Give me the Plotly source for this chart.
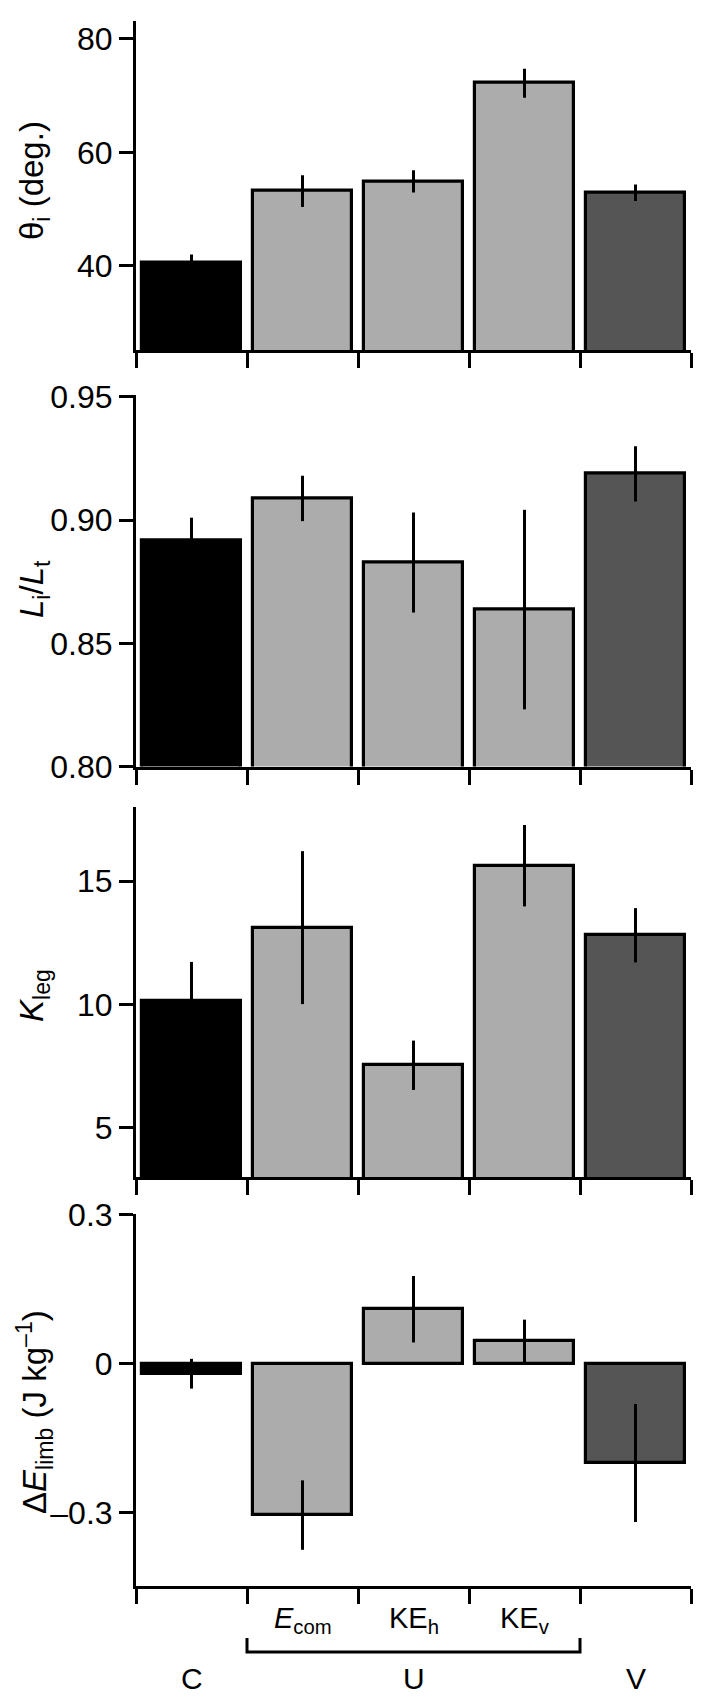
import plotly.graph_objects as go

# categories (C = control, U = unvaried components, V = varied)
categories = ["C", "Ecom", "KEh", "KEv", "V"]
cat_labels = ["", "<i>E</i><sub>com</sub>", "KE<sub>h</sub>", "KE<sub>v</sub>", ""]
group_labels = ["C", "U", "V"]
group_pos = [0, 2, 4]
bar_colors = ["#000000", "#acacac", "#acacac", "#acacac", "#555555"]

theta = [40.6, 53.2, 54.9, 72.2, 52.9]
theta_err = [1.4, 2.8, 1.95, 2.55, 1.45]

len_ratio = [0.8917, 0.9088, 0.8828, 0.8637, 0.9188]
len_ratio_err = [0.0093, 0.0092, 0.0203, 0.0405, 0.0112]

kleg = [10.12, 13.11, 7.53, 15.62, 12.80]
kleg_err = [1.6, 3.1, 1.0, 1.65, 1.1]

delta_e = [-0.02, -0.305, 0.11, 0.045, -0.20]
delta_e_err = [0.03, 0.07, 0.067, 0.044, 0.119]

W, H = 712, 1706
OFF = 8  # page body margin shifts the figure by this much
ML, MR = 136 - OFF, W - (691 - OFF)
FONT = "Liberation Sans, Arial, Helvetica, sans-serif"


def py(pix):
    # screen pixel row -> paper y
    return 1 - (pix - OFF) / H


def px(pix):
    # screen pixel column -> paper x
    return (pix - OFF - ML) / (W - ML - MR)


panels = [
    dict(y=theta, err=theta_err, rng=[25.2, 83.2], tv=[40, 60, 80], tt=["40", "60", "80"],
         dom=[py(350), py(20.7)], title="θ<sub>i</sub> (deg.)", ty=181),
    dict(y=len_ratio, err=len_ratio_err, rng=[0.80, 0.951], tv=[0.80, 0.85, 0.90, 0.95],
         tt=["0.80", "0.85", "0.90", "0.95"], dom=[py(766.5), py(394.5)],
         title="<i>L</i><sub>i</sub>/<i>L</i><sub>t</sub>", ty=589),
    dict(y=kleg, err=kleg_err, rng=[3, 18], tv=[5, 10, 15], tt=["5", "10", "15"],
         dom=[py(1177), py(807)], title="<i>K</i><sub>leg</sub>", ty=996),
    dict(y=delta_e, err=delta_e_err, rng=[-0.448, 0.302], tv=[-0.3, 0, 0.3], tt=["–0.3", "0", "0.3"],
         dom=[py(1586), py(1214)], title="Δ<i>E</i><sub>limb</sub> (J kg<sup>–1</sup>)", ty=1412),
]

xpos = list(range(len(categories)))
fig = go.Figure()
layout = {}
annotations = []

for i, p in enumerate(panels, start=1):
    xa = "x" if i == 1 else "x%d" % i
    ya = "y" if i == 1 else "y%d" % i
    fig.add_trace(go.Bar(
        x=xpos, y=p["y"], width=0.9,
        marker=dict(color=bar_colors, line=dict(color="black", width=3.2)),
        error_y=dict(type="data", array=p["err"], color="black", thickness=3, width=0),
        xaxis=xa, yaxis=ya, showlegend=False, hoverinfo="skip",
    ))
    layout["xaxis" if i == 1 else "xaxis%d" % i] = dict(
        domain=[0, 1], anchor=ya, range=[-0.5, 4.5],
        tickvals=[k - 0.5 for k in range(len(categories) + 1)],
        ticks="outside", ticklen=15, tickwidth=3, tickcolor="black",
        showticklabels=False, showline=True, linecolor="black", linewidth=3,
        showgrid=False, zeroline=False, automargin=False,
    )
    layout["yaxis" if i == 1 else "yaxis%d" % i] = dict(
        domain=p["dom"], anchor=xa, range=p["rng"], tickvals=p["tv"], ticktext=p["tt"],
        ticks="outside", ticklen=14, tickwidth=3, tickcolor="black",
        showline=True, linecolor="black", linewidth=3, showgrid=False, zeroline=False,
        tickfont=dict(size=32, color="black", family=FONT), ticklabelstandoff=0,
        automargin=False,
    )
    annotations.append(dict(
        text=p["title"], xref="paper", yref="paper", x=px(34), y=py(p["ty"]),
        xanchor="center", yanchor="middle", textangle=-90, showarrow=False,
        font=dict(size=33, color="black", family=FONT),
    ))

# component labels under bottom panel
for k, lab in enumerate(cat_labels):
    if lab:
        annotations.append(dict(text=lab, xref="x4", yref="paper", x=xpos[k], y=py(1620),
                                xanchor="center", yanchor="middle", showarrow=False,
                                font=dict(size=29, color="black", family=FONT)))
for lab, gx in zip(group_labels, group_pos):
    annotations.append(dict(text=lab, xref="x4", yref="paper", x=gx, y=py(1678),
                            xanchor="center", yanchor="middle", showarrow=False,
                            font=dict(size=30, color="black", family=FONT)))

# bracket grouping the U components
shapes = [
    dict(type="path", xref="x4", yref="paper",
         path="M 0.5,%f L 0.5,%f L 3.5,%f L 3.5,%f" % (py(1638), py(1652), py(1652), py(1638)),
         line=dict(color="black", width=3)),
]

fig.update_layout(
    **layout,
    template="none",
    annotations=annotations, shapes=shapes,
    width=W, height=H, autosize=False,
    margin=dict(l=ML, r=MR, t=0, b=0, pad=0, autoexpand=False),
    plot_bgcolor="white", paper_bgcolor="white",
    font=dict(family=FONT, color="black"), bargap=0, showlegend=False,
)

fig.write_html("out.html")
